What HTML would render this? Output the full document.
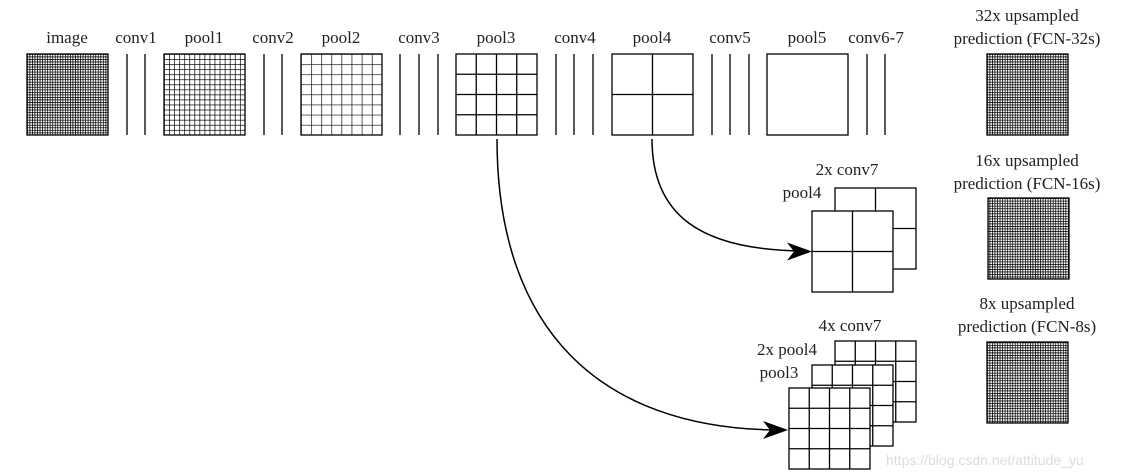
<!DOCTYPE html>
<html><head><meta charset="utf-8"><style>
html,body{margin:0;padding:0;background:#fff}
svg{display:block}
text{font-family:"Liberation Serif",serif;font-size:17px;fill:#222}
</style></head><body>
<svg width="1122" height="475" viewBox="0 0 1122 475" xmlns="http://www.w3.org/2000/svg">
<defs>
<pattern id="g32" x="27" y="54" width="2.53" height="2.53" patternUnits="userSpaceOnUse"><rect width="2.53" height="2.53" fill="#fff"/><path d="M0 0H2.53M0 0V2.53" stroke="#000" stroke-width="1.5"/></pattern>
<pattern id="p32" x="987" y="54" width="2.53" height="2.53" patternUnits="userSpaceOnUse"><rect width="2.53" height="2.53" fill="#fff"/><path d="M0 0H2.53M0 0V2.53" stroke="#000" stroke-width="1.5"/></pattern>
<pattern id="g16" x="164" y="54" width="5.0625" height="5.0625" patternUnits="userSpaceOnUse"><path d="M0 0H5.0625M0 0V5.0625" stroke="#000" stroke-width="1.4"/></pattern>
<pattern id="g8" x="301" y="54" width="10.125" height="10.125" patternUnits="userSpaceOnUse"><path d="M0 0H10.125M0 0V10.125" stroke="#000" stroke-width="1.3"/></pattern>
</defs>
<g stroke="#000" fill="none" stroke-width="1.3">
<rect x="27" y="54" width="81" height="81" fill="url(#g32)"/>
<line x1="127" y1="54" x2="127" y2="135"/><line x1="145" y1="54" x2="145" y2="135"/>
<rect x="164" y="54" width="81" height="81" fill="url(#g16)"/>
<line x1="264" y1="54" x2="264" y2="135"/><line x1="282" y1="54" x2="282" y2="135"/>
<rect x="301" y="54" width="81" height="81" fill="url(#g8)"/>
<line x1="400" y1="54" x2="400" y2="135"/><line x1="419" y1="54" x2="419" y2="135"/><line x1="438" y1="54" x2="438" y2="135"/>
<rect x="456" y="54" width="81" height="81"/>
<path d="M476.25 54V135M496.5 54V135M516.75 54V135M456 74.25H537M456 94.5H537M456 114.75H537"/>
<line x1="556" y1="54" x2="556" y2="135"/><line x1="574" y1="54" x2="574" y2="135"/><line x1="593" y1="54" x2="593" y2="135"/>
<rect x="612" y="54" width="81" height="81"/>
<path d="M652.5 54V135M612 94.5H693"/>
<line x1="712" y1="54" x2="712" y2="135"/><line x1="730" y1="54" x2="730" y2="135"/><line x1="749" y1="54" x2="749" y2="135"/>
<rect x="767" y="54" width="81" height="81"/>
<line x1="867" y1="54" x2="867" y2="135"/><line x1="885" y1="54" x2="885" y2="135"/>
<rect x="987" y="54" width="81" height="81" fill="url(#p32)"/>
<rect x="988" y="198" width="81" height="81" fill="url(#p32)"/>
<rect x="987" y="342" width="81" height="81" fill="url(#p32)"/>
<rect x="835" y="188" width="81" height="81" fill="#fff"/>
<path d="M875.5 188V269M835 228.5H916"/>
<rect x="812" y="211" width="81" height="81" fill="#fff"/>
<path d="M852.5 211V292M812 251.5H893"/>
<rect x="835" y="341" width="81" height="81" fill="#fff"/>
<path d="M855.25 341V422M875.5 341V422M895.75 341V422M835 361.25H916M835 381.5H916M835 401.75H916"/>
<rect x="812" y="365" width="81" height="81" fill="#fff"/>
<path d="M832.25 365V446M852.5 365V446M872.75 365V446M812 385.25H893M812 405.5H893M812 425.75H893"/>
<rect x="789" y="388" width="81" height="81" fill="#fff"/>
<path d="M809.25 388V469M829.5 388V469M849.75 388V469M789 408.25H870M789 428.5H870M789 448.75H870"/>
<path d="M497 139C497 330 600 428 776 430" stroke-width="1.5"/>
<path d="M652 139C652 215 700 250 803 251" stroke-width="1.5"/>
</g>
<path d="M788 430L763 421L770 430L763 439Z" fill="#000"/>
<path d="M812 251.5L787 242.5L794 251.5L787 260.5Z" fill="#000"/>
<g text-anchor="middle">
<text x="67" y="43">image</text>
<text x="136" y="43">conv1</text>
<text x="204" y="43">pool1</text>
<text x="273" y="43">conv2</text>
<text x="341" y="43">pool2</text>
<text x="419" y="43">conv3</text>
<text x="496" y="43">pool3</text>
<text x="575" y="43">conv4</text>
<text x="652" y="43">pool4</text>
<text x="730" y="43">conv5</text>
<text x="807" y="43">pool5</text>
<text x="876" y="43">conv6-7</text>
<text x="1027" y="21">32x upsampled</text>
<text x="1027" y="44">prediction (FCN-32s)</text>
<text x="1027" y="166">16x upsampled</text>
<text x="1027" y="189">prediction (FCN-16s)</text>
<text x="1027" y="309">8x upsampled</text>
<text x="1027" y="332">prediction (FCN-8s)</text>
<text x="847" y="175">2x conv7</text>
<text x="802" y="198">pool4</text>
<text x="850" y="331">4x conv7</text>
<text x="787" y="355">2x pool4</text>
<text x="779" y="378">pool3</text>
</g>
<text x="886" y="465" style="font-family:'Liberation Sans',sans-serif;font-size:14px;fill:#ddd">https://blog.csdn.net/attitude_yu</text>
</svg>
</body></html>
